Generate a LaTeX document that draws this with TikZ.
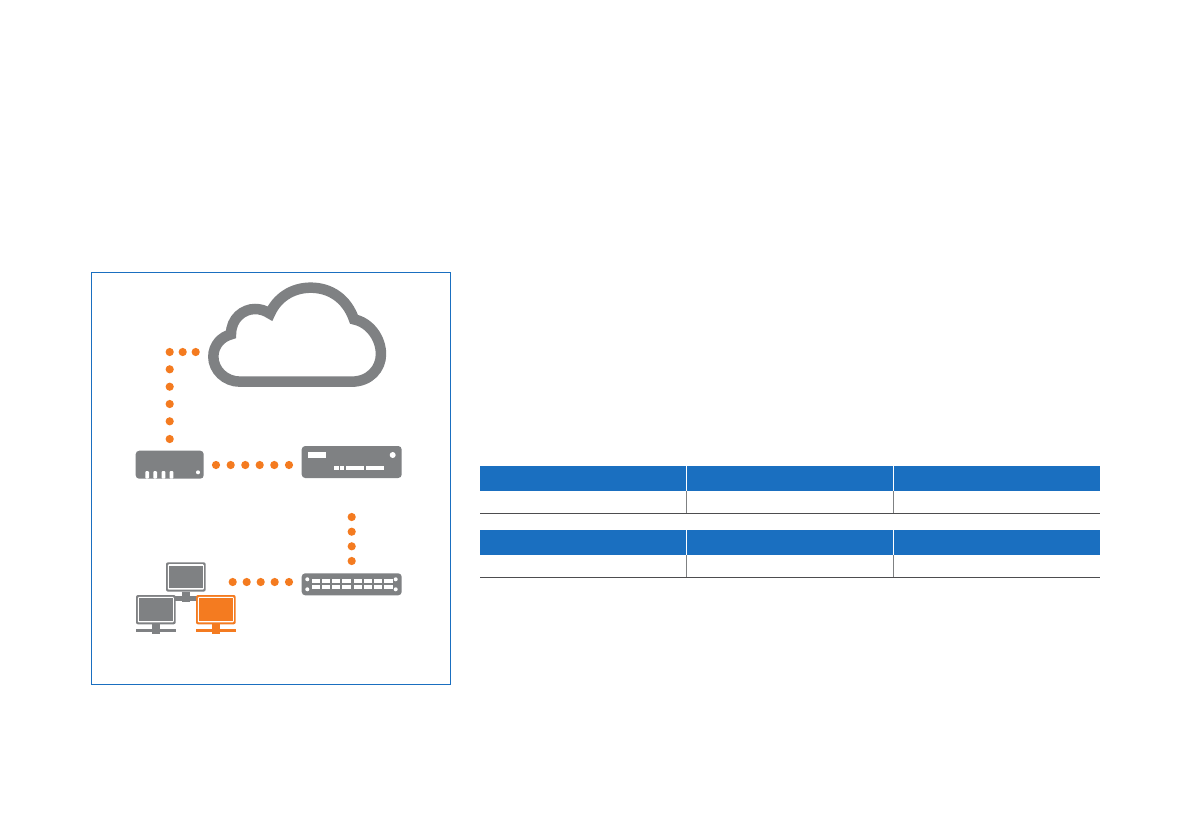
\documentclass[tikz,border=0pt]{standalone}
\definecolor{devgrey}{HTML}{7F8183}
\definecolor{netorange}{HTML}{F47B20}
\definecolor{headblue}{HTML}{1A6FC0}
\definecolor{rulegrey}{HTML}{4D4D4F}
\tikzset{
  dev/.style={fill=devgrey,draw=none,rounded corners=3.5pt},
  hole/.style={fill=white,draw=none},
  dot/.style={fill=netorange,draw=none},
  head/.style={fill=headblue,draw=none},
  tablerule/.style={draw=rulegrey,line width=0.9pt},
  colrule/.style={draw=devgrey,line width=0.8pt},
  colgap/.style={draw=white,line width=0.9pt},
  monitor/.pic={
    \fill[pic actions,rounded corners=2pt] (0,0) rectangle (39.7,29.3);
    \fill[white,rounded corners=1pt] (1.9,1.9) rectangle (37.8,27.4);
    \fill[pic actions] (3.3,3.3) rectangle (36.6,26);
    \fill[pic actions] (15.7,29.3) rectangle (24,39.3);
    \fill[pic actions] (0,34) rectangle (39.7,37.3);
  }
}
\begin{document}
\begin{tikzpicture}[x=1pt,y=-1pt]
\useasboundingbox (0,0) rectangle (1191,839);
\fill[white] (0,0) rectangle (1191,839);
% frame
\draw[headblue,line width=1pt] (91.5,272.5) rectangle (450.5,684.5);
% cloud
\begin{scope}[shift={(150,275)},x=0.3333pt,y=-0.3333pt]
\draw[devgrey,line width=10.5pt,line join=miter,miter limit=6,fill=white]
  (270,320) -- (605,320)
  .. controls (660,320) and (693,280) .. (693,238)
  .. controls (693,190) and (660,143) .. (612,133)
  .. controls (590,70) and (540,38) .. (482,38)
  .. controls (425,38) and (380,70) .. (360,116)
  .. controls (345,106) and (330,102) .. (315,102)
  .. controls (280,102) and (243,130) .. (243,178)
  .. controls (215,185) and (190,210) .. (190,245)
  .. controls (190,285) and (225,320) .. (270,320) -- cycle;
\end{scope}
% dotted links
\foreach \x/\y in {169.7/352,182.7/352,195.7/352,169.7/369.3,169.7/386.7,169.7/404,169.7/421.3,169.7/439,
  216/465,230.7/465,245.3/465,259.7/465,274.3/465,289/465,
  351.7/517,351.7/531.7,351.7/546.3,351.7/561,
  232.7/582,246.7/582,260.7/582,274.7/582,289/582}
  \fill[dot] (\x,\y) circle (4.1pt);
% router
\fill[dev] (135.7,450.7) rectangle (203.7,478.7);
\foreach \x in {145.3,153.3,161.6,169.6}
  \fill[hole,rounded corners=1pt] (\x,471) rectangle ++(3.7,7.7);
\fill[hole] (198,472.3) circle (2pt);
% firewall
\fill[dev] (301.7,446) rectangle (401.7,478);
\fill[hole] (308,452.3) rectangle (326,457.7);
\fill[hole] (392.7,455) circle (3pt);
\foreach \a/\b in {334/338.7,340/344.3,346/364.3,366/384}
  \fill[hole] (\a,466) rectangle (\b,470);
% switch
\fill[dev] (301.7,573.3) rectangle (401.7,595.3);
\foreach \x in {307.3,395.7} \foreach \y in {579.3,589.3}
  \fill[hole] (\x,\y) circle (2pt);
\foreach \x in {312,322,332,342.3,354,364,374,384.3} {
  \fill[hole] (\x,579) rectangle ++(8.3,4.3);
  \fill[hole] (\x,585) rectangle ++(8.3,4.3);
}
% monitors
\fill[devgrey] (175,598.7) rectangle (197,601.3);
\pic[fill=devgrey] at (166,562.3) {monitor};
\pic[fill=devgrey] at (136,595) {monitor};
\pic[fill=netorange] at (196,595) {monitor};
% table 1
\fill[head] (480,466) rectangle (1100,490.7);
\draw[colgap] (686.6,466) -- (686.6,490.7);
\draw[colgap] (893,466) -- (893,490.7);
\draw[colrule] (686.6,490.7) -- (686.6,513);
\draw[colrule] (893,490.7) -- (893,513);
\draw[tablerule] (480,513) -- (1100,513);
% table 2
\fill[head] (480,530.3) rectangle (1100,555.3);
\draw[colgap] (686.6,530.3) -- (686.6,555.3);
\draw[colgap] (893,530.3) -- (893,555.3);
\draw[colrule] (686.6,555.3) -- (686.6,577.3);
\draw[colrule] (893,555.3) -- (893,577.3);
\draw[tablerule] (480,577.3) -- (1100,577.3);
\end{tikzpicture}
\end{document}
